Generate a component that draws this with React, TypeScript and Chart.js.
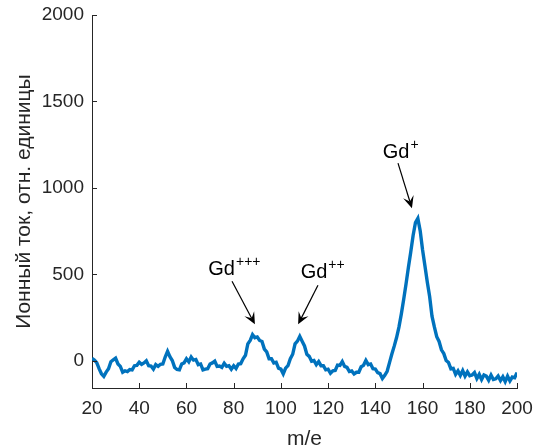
import React, { useEffect, useRef } from "react";
import { Chart, registerables } from "chart.js";

Chart.register(...registerables);

// m/e sampling grid: starts at 20, step 1
const MZ_START = 20;
const MZ_STEP = 1;

// Ion current (relative units), one value per m/e from 20 to 200
const intensity = [
  15, 5, -10, -45, -75, -90, -65, -46, -5, 5,
  15, -18, -32, -66, -58, -62, -50, -52, -28, -26,
  -8, -20, -12, 0, -28, -30, -48, -22, -32, -20,
  -18, 22, 55, 24, 2, -38, -50, -52, -18, -12,
  12, -6, 22, 4, 8, -22, -18, -52, -48, -46,
  -18, -12, -2, -32, -30, -38, -14, -32, -28, -48,
  -28, -44, -18, -16, 12, 32, 98, 118, 152, 134,
  138, 118, 112, 68, 52, 12, 12, -12, -8, -42,
  -48, -75, -42, -28, 12, 38, 98, 114, 142, 114,
  86, 38, 26, -2, 2, -22, -4, -28, -28, -52,
  -48, -72, -58, -56, -24, -26, -4, -32, -38, -62,
  -58, -76, -66, -66, -34, -26, 2, -22, -18, -46,
  -48, -68, -74, -102, -84, -60, -10, 40, 85, 135,
  195, 270, 355, 445, 540, 630, 725, 800, 824, 752,
  642, 550, 456, 372, 258, 196, 140, 112, 64, 42,
  2, -10, -46, -44, -78, -58, -84, -56, -88, -64,
  -86, -82, -68, -102, -78, -108, -82, -88, -112, -82,
  -108, -104, -88, -114, -92, -120, -88, -116, -94, -98,
  -68,
];

const xTicks = [20, 40, 60, 80, 100, 120, 140, 160, 180, 200];
const yTicks = [0, 500, 1000, 1500, 2000];

const X_MIN = 20;
const X_MAX = 200;
const Y_MIN = -157;
const Y_MAX = 2000;

// Annotation labels (data coordinates)
const annLabels = ["Gd", "Gd", "Gd"];
const annSups = ["+++", "++", "+"];
const annTextX = [80.1, 117.5, 150.5];
const annTextY = [495, 478, 1172];
const annFromX = [79.3, 115.7, 149.6];
const annFromY = [460, 437, 1143];
const annToX = [89.0, 107.3, 155.5];
const annToY = [211, 211, 883];

const FONT = '"Liberation Sans", Arial, Helvetica, sans-serif';
const AXIS_COLOR = "#262626";
const LINE_COLOR = "#0072BD";

const overlayPlugin = {
  id: "overlay",
  afterDatasetsDraw(chart: any) {
    const ctx = chart.ctx;
    const xs = chart.scales.x;
    const ys = chart.scales.y;
    const area = chart.chartArea;
    ctx.save();
    // inward tick marks
    ctx.strokeStyle = AXIS_COLOR;
    ctx.lineWidth = 1;
    ctx.beginPath();
    xs.ticks.forEach((t: any) => {
      const px = Math.round(xs.getPixelForValue(t.value)) + 0.5;
      ctx.moveTo(px, area.bottom);
      ctx.lineTo(px, area.bottom - 5);
    });
    ys.ticks.forEach((t: any) => {
      const py = Math.round(ys.getPixelForValue(t.value)) + 0.5;
      ctx.moveTo(area.left, py);
      ctx.lineTo(area.left + 5, py);
    });
    ctx.stroke();

    // annotations
    for (let i = 0; i < annLabels.length; i++) {
      const bigFont = `20px ${FONT}`;
      const smallFont = `14px ${FONT}`;
      ctx.font = bigFont;
      const w1 = ctx.measureText(annLabels[i]).width;
      ctx.font = smallFont;
      const w2 = ctx.measureText(annSups[i]).width;
      const cx = xs.getPixelForValue(annTextX[i]);
      const by = ys.getPixelForValue(annTextY[i]);
      const left = cx - (w1 + w2) / 2;
      ctx.fillStyle = "#000";
      ctx.textBaseline = "alphabetic";
      ctx.textAlign = "left";
      ctx.font = bigFont;
      ctx.fillText(annLabels[i], left, by);
      ctx.font = smallFont;
      ctx.fillText(annSups[i], left + w1 + 1, by - 9);

      const x1 = xs.getPixelForValue(annFromX[i]);
      const y1 = ys.getPixelForValue(annFromY[i]);
      const x2 = xs.getPixelForValue(annToX[i]);
      const y2 = ys.getPixelForValue(annToY[i]);
      const ang = Math.atan2(y2 - y1, x2 - x1);
      const dx = Math.cos(ang);
      const dy = Math.sin(ang);
      const L = 12;
      const W = 5.5;
      const N = 7;
      ctx.strokeStyle = "#000";
      ctx.lineWidth = 1.2;
      ctx.beginPath();
      ctx.moveTo(x1, y1);
      ctx.lineTo(x2 - N * dx, y2 - N * dy);
      ctx.stroke();
      ctx.beginPath();
      ctx.moveTo(x2, y2);
      ctx.lineTo(x2 - L * dx - W * dy, y2 - L * dy + W * dx);
      ctx.lineTo(x2 - N * dx, y2 - N * dy);
      ctx.lineTo(x2 - L * dx + W * dy, y2 - L * dy - W * dx);
      ctx.closePath();
      ctx.fillStyle = "#000";
      ctx.fill();
    }
    ctx.restore();
  },
};

export default function App() {
  const ref = useRef<HTMLCanvasElement | null>(null);

  useEffect(() => {
    if (!ref.current) return;
    const points = intensity.map((v, i) => ({ x: MZ_START + i * MZ_STEP, y: v }));
    const chart = new Chart(ref.current, {
      type: "line",
      data: {
        datasets: [
          {
            data: points,
            borderColor: LINE_COLOR,
            borderWidth: 3.4,
            pointRadius: 0,
            tension: 0,
            fill: false,
          },
        ],
      },
      options: {
        responsive: true,
        maintainAspectRatio: false,
        animation: false,
        layout: { padding: { left: 0, top: 15, right: 20, bottom: 0 } },
        plugins: {
          legend: { display: false },
          tooltip: { enabled: false },
        },
        scales: {
          x: {
            type: "linear",
            min: X_MIN,
            max: X_MAX,
            afterBuildTicks: (s: any) => {
              s.ticks = xTicks.map((v) => ({ value: v }));
            },
            afterFit: (s: any) => {
              s.height = 64;
              s.paddingLeft = 0;
              s.paddingRight = 0;
            },
            grid: { display: true, drawOnChartArea: false, drawTicks: false },
            border: { display: true, color: AXIS_COLOR, width: 1 },
            ticks: {
              color: AXIS_COLOR,
              font: { family: FONT, size: 19 },
              padding: 9,
              maxRotation: 0,
              autoSkip: false,
              callback: (v: any) => String(v),
            },
            title: {
              display: true,
              text: "m/e",
              color: AXIS_COLOR,
              font: { family: FONT, size: 21 },
              padding: { top: 0, bottom: 0 },
            },
          },
          y: {
            type: "linear",
            min: Y_MIN,
            max: Y_MAX,
            afterBuildTicks: (s: any) => {
              s.ticks = yTicks.map((v) => ({ value: v }));
            },
            afterFit: (s: any) => {
              s.width = 92;
              s.paddingTop = 0;
              s.paddingBottom = 0;
            },
            grid: { display: true, drawOnChartArea: false, drawTicks: false },
            border: { display: true, color: AXIS_COLOR, width: 1 },
            ticks: {
              color: AXIS_COLOR,
              font: { family: FONT, size: 19 },
              padding: 8,
              autoSkip: false,
              callback: (v: any) => String(v),
            },
            title: {
              display: true,
              text: "Ионный ток, отн. единицы",
              color: AXIS_COLOR,
              font: { family: FONT, size: 21 },
              padding: { top: 12, bottom: 0 },
            },
          },
        },
      },
      plugins: [overlayPlugin],
    });
    return () => chart.destroy();
  }, []);

  return (
    <div style={{ position: "fixed", left: 0, top: 0, width: 537, height: 452, background: "#fff" }}>
      <canvas ref={ref} />
    </div>
  );
}
